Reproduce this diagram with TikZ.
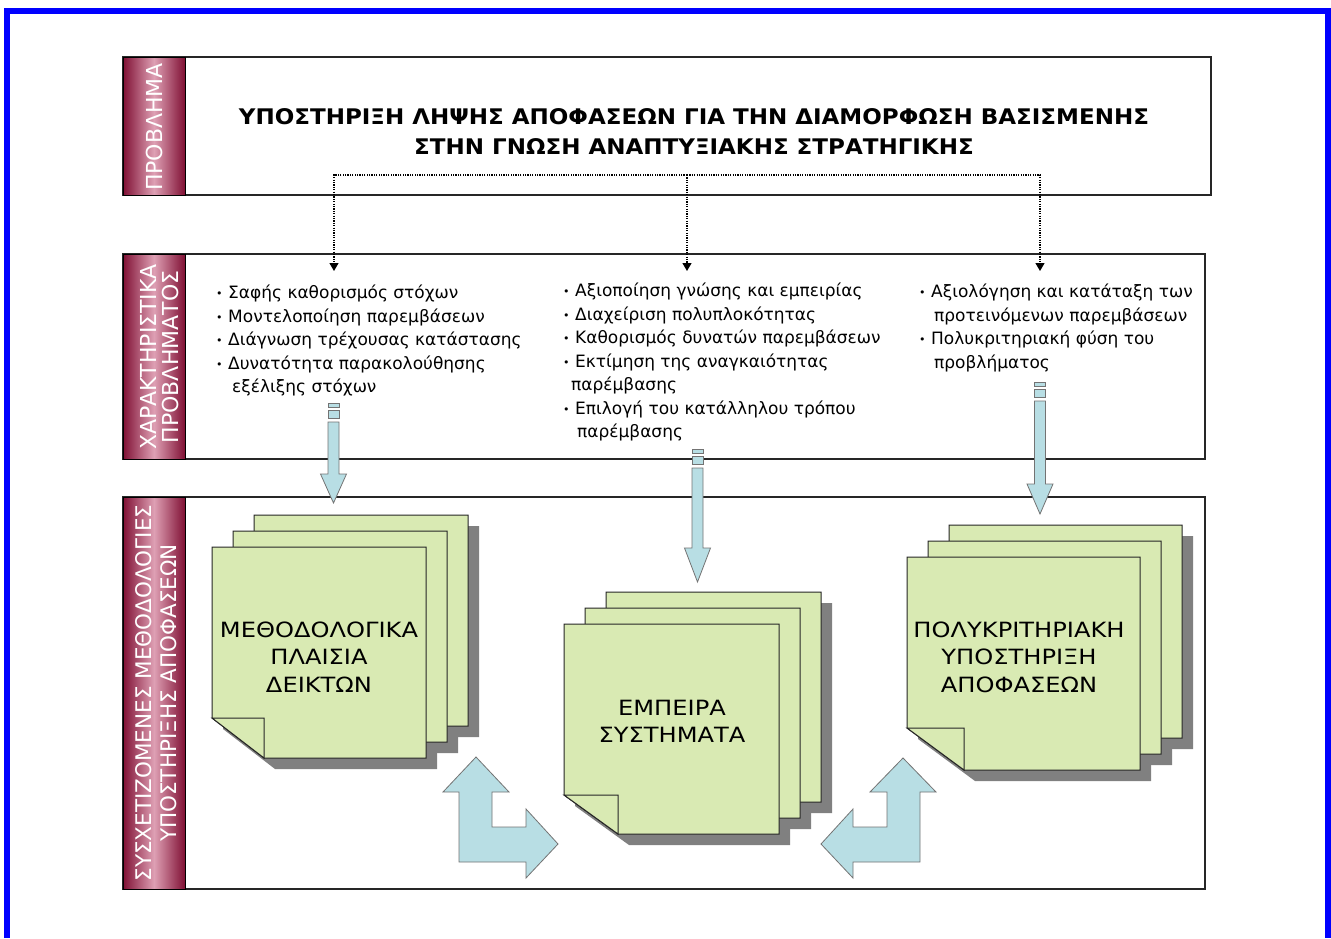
\documentclass[tikz,border=0pt]{standalone}
\usepackage{fontspec}
\setmainfont{DejaVu Sans}
\newfontfamily\capsfont[FakeStretch=1.15]{DejaVu Sans}
\newfontfamily\titlefont[FakeStretch=1.07]{DejaVu Sans}
\usetikzlibrary{arrows.meta,positioning}

\definecolor{frameblue}{RGB}{0,0,255}
\definecolor{bardark}{RGB}{128,16,52}
\definecolor{barlight}{RGB}{222,160,180}
\definecolor{sheetgreen}{RGB}{217,234,179}
\definecolor{arrowblue}{RGB}{184,222,228}
\definecolor{shadowgray}{RGB}{128,128,128}

\tikzset{
  secbox/.style={draw=black!85, line width=1.2pt, fill=white},
  bar/.style={draw=black, line width=1pt, left color=bardark, right color=bardark, middle color=barlight},
  barlabel/.style={white, rotate=90, align=center, inner sep=0pt},
  sheet/.style={draw=black!85, line width=1pt, fill=sheetgreen},
  sheetshadow/.style={fill=shadowgray},
  blockarrow/.style={draw=black!55, line width=0.8pt, fill=arrowblue},
  itemtext/.style={anchor=north west, align=left, inner sep=0pt, font=\fontsize{17}{23.5}\selectfont},
  doclabel/.style={align=center, inner sep=0pt, font=\capsfont\fontsize{21}{27.5}\selectfont},
  link/.style={line width=1.2pt, dash pattern=on 1.2pt off 1.2pt, -{Triangle[length=8pt,width=9pt]}}
}

% one sheet: style, x, y, width, height, fold width, fold height
\newcommand{\docpage}[7]{%
  \path[#1] (#2,#3) -- ++(#4,0) -- ++(0,#5) -- ++({#6-#4},0) -- ++(-#6,-#7) -- cycle;}
% stack of three sheets, front sheet at x, y
\newcommand{\docstack}[6]{%
  \foreach \k in {2,1,0}
    \docpage{sheetshadow}{#1+21*\k+11}{#2-16*\k+11}{#3}{#4}{#5}{#6};
  \foreach \k in {2,1,0}
    \docpage{sheet}{#1+21*\k}{#2-16*\k}{#3}{#4}{#5}{#6};
  \path[sheet] (#1,#2+#4-#6) -- ++(#5,0) -- ++(0,#6) -- cycle;}
% block arrow down: x, y top, y head base, y tip
\newcommand{\bigdown}[4]{%
  \path[blockarrow] (#1-5.5,#2) rectangle (#1+5.5,#2+4);
  \path[blockarrow] (#1-5.5,#2+7) rectangle (#1+5.5,#2+15);
  \path[blockarrow] (#1-5.5,#2+19) -- (#1-5.5,#3) -- (#1-13,#3) -- (#1,#4)
    -- (#1+13,#3) -- (#1+5.5,#3) -- (#1+5.5,#2+19) -- cycle;}
\newcommand{\itm}{\makebox[12pt][l]{\fontsize{11}{11}\selectfont\raisebox{1pt}{•}}}

\begin{document}
\begin{tikzpicture}[x=1pt, y=-1pt]
\useasboundingbox (0,0) rectangle (1331,938);
\draw[frameblue, line width=6pt] (7,938) -- (7,11) -- (1328,11) -- (1328,938);

% sections
\path[secbox] (123,57) rectangle (1211,195);
\path[secbox] (123,254) rectangle (1205,459);
\path[secbox] (123,497) rectangle (1205,889);
\path[bar] (123,57) rectangle (185,195);
\path[bar] (123,254) rectangle (185,459);
\path[bar] (123,497) rectangle (185,889);

\node[barlabel, font=\fontsize{22}{22}\selectfont] (lblprob) at (154,127) {ΠΡΟΒΛΗΜΑ};
\node[barlabel, font=\fontsize{22}{22}\selectfont] (lblchar) at (160,357) {ΧΑΡΑΚΤΗΡΙΣΤΙΚΑ\\ΠΡΟΒΛΗΜΑΤΟΣ};
\node[barlabel, font=\fontsize{21.5}{25}\selectfont] (lblmeth) at (156,693) {ΣΥΣΧΕΤΙΖΟΜΕΝΕΣ ΜΕΘΟΔΟΛΟΓΙΕΣ\\ΥΠΟΣΤΗΡΙΞΗΣ ΑΠΟΦΑΣΕΩΝ};

% problem
\node[align=center, inner sep=0pt, font=\titlefont\bfseries\fontsize{21.5}{30}\selectfont] (title) at (694,132)
  {ΥΠΟΣΤΗΡΙΞΗ ΛΗΨΗΣ ΑΠΟΦΑΣΕΩΝ ΓΙΑ ΤΗΝ ΔΙΑΜΟΡΦΩΣΗ ΒΑΣΙΣΜΕΝΗΣ\\ΣΤΗΝ ΓΝΩΣΗ ΑΝΑΠΤΥΞΙΑΚΗΣ ΣΤΡΑΤΗΓΙΚΗΣ};

\coordinate (split) at (687,175);
\coordinate (to1) at (334,271);
\coordinate (to2) at (687,271);
\coordinate (to3) at (1040,271);
\draw[link] (split) -| (to1);
\draw[link] (split) -- (to2);
\draw[link] (split) -| (to3);

% characteristics
\node[itemtext] (items1) at (216,285) {\itm Σαφής καθορισμός στόχων\\
  \itm Μοντελοποίηση παρεμβάσεων\\
  \itm Διάγνωση τρέχουσας κατάστασης\\
  \itm Δυνατότητα παρακολούθησης\\
  \hspace*{16pt}εξέλιξης στόχων};
\node[itemtext] (items2) at (563,283) {\itm Αξιοποίηση γνώσης και εμπειρίας\\
  \itm Διαχείριση πολυπλοκότητας\\
  \itm Καθορισμός δυνατών παρεμβάσεων\\
  \itm Εκτίμηση της αναγκαιότητας\\
  \hspace*{8pt}παρέμβασης\\
  \itm Επιλογή του κατάλληλου τρόπου\\
  \hspace*{14pt}παρέμβασης};
\node[itemtext] (items3) at (919,284) {\itm Αξιολόγηση και κατάταξη των\\
  \hspace*{15pt}προτεινόμενων παρεμβάσεων\\
  \itm Πολυκριτηριακή φύση του\\
  \hspace*{15pt}προβλήματος};

\bigdown{333.5}{403}{474}{503}
\bigdown{697.5}{449}{548}{582}
\bigdown{1040}{382}{484}{514}

% methodologies
\docstack{212}{547}{214}{211}{52}{40}
\docstack{564}{624}{215}{210}{54}{39}
\docstack{907}{557}{233}{213}{57}{42}

\node[doclabel] (frames) at (319,657) {ΜΕΘΟΔΟΛΟΓΙΚΑ\\ΠΛΑΙΣΙΑ\\ΔΕΙΚΤΩΝ};
\node[doclabel, font=\capsfont\fontsize{21}{27}\selectfont] (expert) at (672,721) {ΕΜΠΕΙΡΑ\\ΣΥΣΤΗΜΑΤΑ};
\node[doclabel] (mcda) at (1019,657) {ΠΟΛΥΚΡΙΤΗΡΙΑΚΗ\\ΥΠΟΣΤΗΡΙΞΗ\\ΑΠΟΦΑΣΕΩΝ};

\path[blockarrow] (476,757) -- (509,792) -- (492,792) -- (492,827) -- (526,827) -- (526,809)
  -- (558,844) -- (526,878) -- (526,862) -- (459,862) -- (459,792) -- (443,792) -- cycle;
\path[blockarrow] (903,758) -- (936,792) -- (920,792) -- (920,862) -- (853,862) -- (853,878)
  -- (821,844) -- (853,809) -- (853,827) -- (887,827) -- (887,792) -- (870,792) -- cycle;
\end{tikzpicture}
\end{document}
